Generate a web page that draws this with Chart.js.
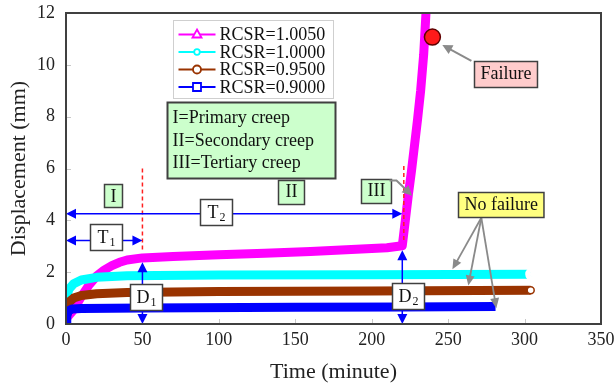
<!DOCTYPE html>
<html><head><meta charset="utf-8">
<script src="https://cdn.jsdelivr.net/npm/chart.js@4.4.1/dist/chart.umd.min.js"></script>
<style>html,body{margin:0;padding:0;background:#fff;}canvas{display:block;}</style>
</head><body>
<canvas id="c" width="614" height="389"></canvas>
<script>
// ---- data ----
const seriesLabels = ['RCSR=1.0050', 'RCSR=1.0000', 'RCSR=0.9500', 'RCSR=0.9000'];
const seriesColors = ['#ff00ff', '#00ffff', '#993300', '#0000ff'];

const timeA = [0, 5, 10, 15, 20, 25, 30, 35, 40, 50, 70, 100, 130, 160, 190, 210, 220, 222, 224, 226, 228, 230, 232, 234, 235.5];
const dispA = [0.2, 0.55, 1.05, 1.5, 1.85, 2.08, 2.25, 2.38, 2.47, 2.55, 2.6, 2.67, 2.73, 2.8, 2.88, 2.94, 3.02, 4.0, 5.0, 5.9, 6.9, 7.9, 9.0, 10.4, 12.0];

const timeB = [0, 2, 5, 10, 20, 40, 100, 200, 305];
const dispB = [1.0, 1.35, 1.55, 1.7, 1.8, 1.86, 1.89, 1.9, 1.92];

const timeC = [0, 2, 5, 10, 20, 40, 100, 200, 304];
const dispC = [0.55, 0.85, 1.0, 1.1, 1.17, 1.22, 1.25, 1.27, 1.3];

const timeD = [0, 0.5, 1.5, 4, 10, 50, 150, 220, 281];
const dispD = [0.0, 0.3, 0.5, 0.58, 0.6, 0.62, 0.65, 0.66, 0.68];

const failureTime = [239.7];
const failureDisp = [11.07];

const xTicks = [0, 50, 100, 150, 200, 250, 300, 350];
const yTicks = [0, 2, 4, 6, 8, 10, 12];

const xTitle = 'Time (minute)';
const yTitle = 'Displacement (mm)';
const stageLines = ['I=Primary creep', 'II=Secondary creep', 'III=Tertiary creep'];

// ---- build ----
const pts = (t, d) => t.map((v, i) => ({x: v, y: d[i]}));
const SERIF = "'Liberation Serif','Times New Roman',serif";

function lastOnly(r) { return ctx => ctx.dataIndex === ctx.dataset.data.length - 1 ? r : 0; }

const datasets = [
  {label: seriesLabels[0], data: pts(timeA, dispA), borderColor: seriesColors[0], borderWidth: 9, pointRadius: 0, order: 5},
  {label: seriesLabels[1], data: pts(timeB, dispB), borderColor: seriesColors[1], borderWidth: 9,
   pointRadius: lastOnly(2.5), pointBackgroundColor: '#fff', pointBorderColor: '#fff', order: 4},
  {label: seriesLabels[2], data: pts(timeC, dispC), borderColor: seriesColors[2], borderWidth: 9,
   pointRadius: lastOnly(3.5), pointBackgroundColor: '#fff', pointBorderColor: seriesColors[2], pointBorderWidth: 1.5, order: 3},
  {label: seriesLabels[3], data: pts(timeD, dispD), borderColor: seriesColors[3], borderWidth: 9, pointRadius: 0, order: 2},
  {label: 'Failure', data: pts(failureTime, failureDisp), showLine: false, pointRadius: 8,
   pointBackgroundColor: '#ff1a1a', pointBorderColor: '#600000', pointBorderWidth: 1.5, order: 1}
];
datasets.forEach(d => { d.tension = 0; d.borderCapStyle = 'butt'; d.borderJoinStyle = 'round'; d.showLine = d.showLine !== false; });

function arrowHead(ctx, x1, y1, x2, y2, len, half, color) {
  const a = Math.atan2(y2 - y1, x2 - x1);
  ctx.save(); ctx.fillStyle = color; ctx.beginPath();
  ctx.moveTo(x2, y2);
  ctx.lineTo(x2 - len * Math.cos(a) + half * Math.sin(a), y2 - len * Math.sin(a) - half * Math.cos(a));
  ctx.lineTo(x2 - len * Math.cos(a) - half * Math.sin(a), y2 - len * Math.sin(a) + half * Math.cos(a));
  ctx.closePath(); ctx.fill(); ctx.restore();
}
function arrow(ctx, x1, y1, x2, y2, color, w, both, len, half) {
  len = len || 10; half = half || 5;
  const a = Math.atan2(y2 - y1, x2 - x1);
  ctx.save(); ctx.strokeStyle = color; ctx.lineWidth = w; ctx.beginPath();
  const sx = both ? x1 + (len - 2) * Math.cos(a) : x1, sy = both ? y1 + (len - 2) * Math.sin(a) : y1;
  ctx.moveTo(sx, sy); ctx.lineTo(x2 - (len - 2) * Math.cos(a), y2 - (len - 2) * Math.sin(a)); ctx.stroke(); ctx.restore();
  arrowHead(ctx, x1, y1, x2, y2, len, half, color);
  if (both) arrowHead(ctx, x2, y2, x1, y1, len, half, color);
}
function labelBox(ctx, cx, cy, main, sub, fill, border, padX, h) {
  ctx.save();
  ctx.font = '18px ' + SERIF;
  const wm = ctx.measureText(main).width;
  ctx.font = '12px ' + SERIF;
  const ws = sub ? ctx.measureText(sub).width + 1 : 0;
  const w = wm + ws + 2 * padX;
  const x = Math.round(cx - w / 2) + 0.5, y = Math.round(cy - h / 2) + 0.5;
  ctx.fillStyle = fill; ctx.fillRect(x, y, w, h);
  ctx.strokeStyle = border; ctx.lineWidth = 1.5; ctx.strokeRect(x, y, w, h);
  ctx.fillStyle = '#111'; ctx.textBaseline = 'middle'; ctx.textAlign = 'left';
  ctx.font = '18px ' + SERIF; ctx.fillText(main, x + padX, cy + 1);
  if (sub) { ctx.font = '12px ' + SERIF; ctx.fillText(sub, x + padX + wm + 1, cy + 6); }
  ctx.restore();
  return {x, y, w, h};
}

const framePlugin = {
  id: 'frame',
  beforeDatasetsDraw(chart) {
    const {ctx, chartArea: a, scales: {x, y}} = chart;
    ctx.save(); ctx.strokeStyle = '#c8c8c8'; ctx.lineWidth = 1;
    xTicks.forEach(v => { const px = Math.round(x.getPixelForValue(v)) + 0.5; ctx.beginPath(); ctx.moveTo(px, a.bottom); ctx.lineTo(px, a.bottom - 5); ctx.stroke(); });
    yTicks.forEach(v => { const py = Math.round(y.getPixelForValue(v)) + 0.5; ctx.beginPath(); ctx.moveTo(a.left, py); ctx.lineTo(a.left + 5, py); ctx.stroke(); });
    ctx.restore();
  },
  afterDatasetsDraw(chart) {
    const {ctx, chartArea: a, scales: {x, y}} = chart;
    const X = v => x.getPixelForValue(v), Y = v => y.getPixelForValue(v);

    // red dashed stage boundaries
    ctx.save(); ctx.strokeStyle = '#ff2020'; ctx.lineWidth = 1.5; ctx.setLineDash([4, 3]);
    ctx.beginPath(); ctx.moveTo(X(50), Y(6.0)); ctx.lineTo(X(50), Y(2.85)); ctx.stroke();
    ctx.beginPath(); ctx.moveTo(X(221), Y(6.1)); ctx.lineTo(X(221), Y(3.2)); ctx.stroke();
    ctx.restore();

    const blue = '#0000ff';
    arrow(ctx, X(0), Y(4.25), X(220), Y(4.25), blue, 1.5, true);
    arrow(ctx, X(0), Y(3.22), X(50), Y(3.22), blue, 1.5, true);
    arrow(ctx, X(50), Y(2.38), X(50), Y(0), blue, 1.5, true);
    arrow(ctx, X(220), Y(2.85), X(220), Y(0), blue, 1.5, true);

    labelBox(ctx, X(26.1), Y(3.35), 'T', '1', '#fff', '#404040', 7, 26);
    labelBox(ctx, X(98), Y(4.31), 'T', '2', '#fff', '#404040', 7, 26);
    labelBox(ctx, X(52.3), Y(1.05), 'D', '1', '#fff', '#404040', 6, 26);
    labelBox(ctx, X(224), Y(1.07), 'D', '2', '#fff', '#404040', 6, 26);

    const green = '#ccffcc';
    labelBox(ctx, X(31), Y(4.94), 'I', '', green, '#404040', 6, 23);
    labelBox(ctx, X(147.3), Y(5.11), 'II', '', green, '#404040', 7, 24);
    const b3 = labelBox(ctx, X(203.1), Y(5.15), 'III', '', green, '#404040', 6, 24);

    const gray = '#8a8a8a';
    // III arrow
    ctx.save(); ctx.strokeStyle = gray; ctx.lineWidth = 2; ctx.beginPath();
    ctx.moveTo(b3.x + b3.w - 2, b3.y + 1); ctx.lineTo(b3.x + b3.w + 5, b3.y + 1); ctx.lineTo(X(226.5) - 5, Y(4.95) - 5); ctx.stroke(); ctx.restore();
    arrowHead(ctx, b3.x + b3.w + 5, b3.y + 1, X(226.5), Y(4.95), 10, 5, gray);

    // Stage description box
    ctx.save();
    const gx = Math.round(X(65.8)) + 0.5, gy = Math.round(Y(8.58)) + 0.5;
    const gw = Math.round(X(175.7) - X(65.8)), gh = Math.round(Y(5.64) - Y(8.58));
    ctx.fillStyle = green; ctx.fillRect(gx, gy, gw, gh);
    ctx.strokeStyle = '#404040'; ctx.lineWidth = 2; ctx.strokeRect(gx, gy, gw, gh);
    ctx.fillStyle = '#111'; ctx.font = '18px ' + SERIF; ctx.textBaseline = 'middle'; ctx.textAlign = 'left';
    stageLines.forEach((s, i) => ctx.fillText(s, gx + 5, gy + 16 + i * 22.5));
    ctx.restore();

    // Legend
    ctx.save();
    const lx = Math.round(X(69.9)) + 0.5, ly = Math.round(Y(11.72)) + 0.5;
    const lw = Math.round(X(174.4) - X(69.9)), lh = Math.round(Y(8.7) - Y(11.72));
    ctx.fillStyle = '#fff'; ctx.fillRect(lx, ly, lw, lh);
    ctx.strokeStyle = '#cfcfcf'; ctx.lineWidth = 1; ctx.strokeRect(lx, ly, lw, lh);
    const shapes = ['tri', 'dot', 'circ', 'sq'];
    seriesLabels.forEach((s, i) => {
      const yy = ly + 14 + i * 17.5, c = seriesColors[i], x0 = lx + 5, x1 = lx + 42, xm = (x0 + x1) / 2;
      ctx.strokeStyle = c; ctx.lineWidth = 2; ctx.beginPath(); ctx.moveTo(x0, yy); ctx.lineTo(x1, yy); ctx.stroke();
      ctx.fillStyle = '#fff'; ctx.lineWidth = 1.8; ctx.beginPath();
      if (shapes[i] === 'tri') { ctx.moveTo(xm, yy - 5); ctx.lineTo(xm + 4.5, yy + 3); ctx.lineTo(xm - 4.5, yy + 3); ctx.closePath(); }
      else if (shapes[i] === 'dot') { ctx.arc(xm, yy, 2.8, 0, Math.PI * 2); }
      else if (shapes[i] === 'circ') { ctx.arc(xm, yy, 4, 0, Math.PI * 2); }
      else { ctx.rect(xm - 4, yy - 4, 8, 8); }
      ctx.fill(); ctx.stroke();
      ctx.fillStyle = '#111'; ctx.font = '18px ' + SERIF; ctx.textBaseline = 'middle'; ctx.textAlign = 'left';
      ctx.fillText(s, lx + 46, yy + 1);
    });
    ctx.restore();

    // Failure
    labelBox(ctx, X(287.4), Y(9.66), 'Failure', '', '#ffcccc', '#404040', 6, 26);
    arrow(ctx, X(265.2), Y(10.15), X(246.2), Y(10.77), gray, 2, false, 10, 5);

    // No failure
    const nfFrom = [271.7, 4.10];
    const nfTo = [[252.8, 2.11], [263.2, 1.49], [281.5, 0.61]];
    nfTo.forEach(p => arrow(ctx, X(nfFrom[0]), Y(nfFrom[1]), X(p[0]), Y(p[1]), gray, 1.8, false, 10, 4.5));
    labelBox(ctx, X(284.1), Y(4.62), 'No failure', '', '#ffff80', '#404040', 6, 25);

    // frame
    ctx.save(); ctx.strokeStyle = '#404040'; ctx.lineWidth = 2;
    ctx.strokeRect(a.left, a.top, a.right - a.left, a.bottom - a.top); ctx.restore();
  }
};

new Chart(document.getElementById('c'), {
  type: 'scatter',
  data: {datasets},
  options: {
    responsive: false, animation: false, devicePixelRatio: 1,
    layout: {padding: {left: 0, top: 11, right: 12, bottom: 0}},
    plugins: {legend: {display: false}, tooltip: {enabled: false}},
    scales: {
      x: {
        type: 'linear', min: 0, max: 350,
        afterBuildTicks: s => { s.ticks = xTicks.map(v => ({value: v})); },
        afterFit: s => { s.height = 65; s.paddingLeft = 0; s.paddingRight = 0; },
        grid: {display: false, drawTicks: false}, border: {display: false},
        ticks: {color: '#222', font: {family: SERIF, size: 18}, padding: 5, maxRotation: 0, autoSkip: false},
        title: {display: true, text: xTitle, color: '#222', font: {family: SERIF, size: 22}, padding: {top: 0, bottom: 4}}
      },
      y: {
        type: 'linear', min: 0, max: 12,
        afterBuildTicks: s => { s.ticks = yTicks.map(v => ({value: v})); },
        afterFit: s => { s.width = 66; s.paddingTop = 0; s.paddingBottom = 0; },
        grid: {display: false, drawTicks: false}, border: {display: false},
        ticks: {color: '#222', font: {family: SERIF, size: 18}, padding: 11, autoSkip: false},
        title: {display: true, text: yTitle, color: '#222', font: {family: SERIF, size: 22}, padding: {top: 6, bottom: 0}}
      }
    }
  },
  plugins: [framePlugin]
});
</script>
</body></html>
